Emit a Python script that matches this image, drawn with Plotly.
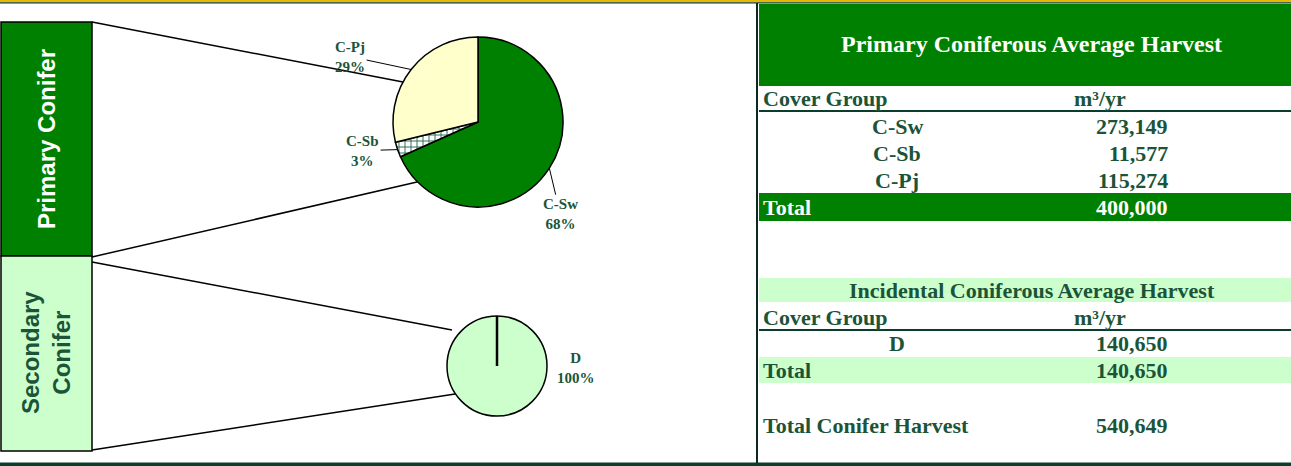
import numpy as np
import plotly.graph_objects as go

W, H = 1291, 466

# data
primary_groups = ["C-Sw", "C-Sb", "C-Pj"]
primary_volumes = [273149, 11577, 115274]
primary_total = 400000
incidental_groups = ["D"]
incidental_volumes = [140650]
incidental_total = 140650
conifer_total = 540649

GREEN = "#008000"
LIGHT = "#CCFFCC"
CREAM = "#FFFFCC"
DARK = "#1B5438"
RULE = "#0B3D2C"
SERIF = "Liberation Serif, Times New Roman, serif"
SANS = "Liberation Sans, Arial, sans-serif"

# pie placement (pixels)
P_CX, P_CY, P_R = 478, 122, 85
S_CX, S_CY, S_R = 497, 366, 50
# where each primary label sits relative to its slice edge (pixels)
label_offsets = {"C-Sw": (11, 46), "C-Sb": (-35, 1), "C-Pj": (-61, -13)}


def domain(cx, cy, r):
    return dict(x=[(cx - r) / W, (cx + r) / W],
                y=[1 - (cy + r) / H, 1 - (cy - r) / H])


def slice_edges(values, cx, cy, r):
    frac = np.array(values, dtype=float) / np.sum(values)
    mids = (np.cumsum(frac) - frac / 2) * 2 * np.pi
    return cx + r * np.sin(mids), cy - r * np.cos(mids), frac


fig = go.Figure()

fig.add_trace(go.Pie(
    labels=primary_groups, values=primary_volumes,
    sort=False, direction="clockwise", rotation=0,
    marker=dict(colors=[GREEN, "white", CREAM],
                line=dict(color="black", width=1.5),
                pattern=dict(shape=["", "+", ""], fgcolor="#2F6E50",
                             size=6, solidity=0.3)),
    textinfo="none", domain=domain(P_CX, P_CY, P_R), showlegend=False,
))
fig.add_trace(go.Pie(
    labels=incidental_groups, values=incidental_volumes,
    sort=False, direction="clockwise", rotation=0,
    marker=dict(colors=[LIGHT], line=dict(color="black", width=1.5)),
    textinfo="none", domain=domain(S_CX, S_CY, S_R), showlegend=False,
))

# invisible pixel axes for the decoration
fig.add_trace(go.Scatter(x=[0, W], y=[0, H], mode="markers",
                         marker=dict(opacity=0), hoverinfo="skip", showlegend=False))

shapes = []


def rect(x0, y0, x1, y1, fill, line=None, width=0):
    shapes.append(dict(type="rect", xref="x", yref="y", x0=x0, y0=y0, x1=x1, y1=y1,
                       fillcolor=fill, line=dict(color=line or fill, width=width), layer="below"))


def seg(x0, y0, x1, y1, color="black", width=1.5):
    shapes.append(dict(type="line", xref="x", yref="y", x0=x0, y0=y0, x1=x1, y1=y1,
                       line=dict(color=color, width=width)))


# page frame
rect(0, 0, W, 2.2, "#E8B800")
rect(0, 2.2, W, 3.6, RULE)
rect(0, 462.5, W, H, RULE)
seg(757, 3, 757, 463, color="#0A2A1F", width=2)

# left group boxes and connectors
rect(1, 22, 92, 256, GREEN, "black", 1.5)
rect(1, 256, 92, 451, LIGHT, "black", 1.5)
seg(92, 22, 403, 82)
seg(92, 257, 417, 182)
seg(92, 262, 452, 330)
seg(92, 450, 455, 394)
seg(S_CX, S_CY, S_CX, S_CY - S_R, width=2.5)

# table bands
rect(759, 4, W, 86, GREEN)
rect(759, 193, W, 221, GREEN)
rect(759, 278, W, 302, LIGHT)
rect(759, 357, W, 383, LIGHT)
seg(759, 111, W, 111, color=RULE, width=2)
seg(759, 330, W, 330, color=RULE, width=2)

ann = []


def text(x, y, s, size=22, color=DARK, anchor="center", font=SERIF, angle=0):
    ann.append(dict(x=x, y=y, xref="x", yref="y", text=s, showarrow=False,
                    xanchor=anchor, yanchor="middle", textangle=angle,
                    font=dict(family=font, size=size, color=color)))


text(46, 139, "<b>Primary Conifer</b>", size=24, color="white", font=SANS, angle=-90)
text(46, 353, "<b>Secondary<br>Conifer</b>", size=24, color=DARK, font=SANS, angle=-90)

# pie labels with leader lines
xs, ys, fr = slice_edges(primary_volumes, P_CX, P_CY, P_R)
for g, x, y, f in zip(primary_groups, xs, ys, fr):
    ax, ay = label_offsets[g]
    ann.append(dict(x=x, y=y, xref="x", yref="y", ax=ax, ay=ay,
                    text=f"<b>{g}<br>{f * 100:.0f}%</b>", showarrow=True,
                    arrowhead=0, arrowwidth=1, arrowcolor="black", standoff=0,
                    font=dict(family=SERIF, size=15, color=DARK)))
_, _, fr2 = slice_edges(incidental_volumes, S_CX, S_CY, S_R)
for g, f in zip(incidental_groups, fr2):
    text(S_CX + S_R + 29, S_CY + 2, f"<b>{g}<br>{f * 100:.0f}%</b>", size=15)

# primary table
VAL_X, GRP_X = 1170, 897
text(1031, 44, "<b>Primary Coniferous Average Harvest</b>", size=24, color="white")
text(761, 98, "<b>Cover Group</b>", anchor="left")
text(1100, 98, "<b>m³/yr</b>")
for i, (g, v) in enumerate(zip(primary_groups, primary_volumes)):
    text(GRP_X, 126 + 27 * i, f"<b>{g}</b>")
    text(VAL_X, 126 + 27 * i, f"<b>{v:,}</b>", anchor="right")
text(761, 207, "<b>Total</b>", color="white", anchor="left")
text(VAL_X, 207, f"<b>{primary_total:,}</b>", color="white", anchor="right")

# incidental table
text(1032, 290, "<b>Incidental Coniferous Average Harvest</b>")
text(761, 317, "<b>Cover Group</b>", anchor="left")
text(1100, 317, "<b>m³/yr</b>")
for i, (g, v) in enumerate(zip(incidental_groups, incidental_volumes)):
    text(GRP_X, 343 + 27 * i, f"<b>{g}</b>")
    text(VAL_X, 343 + 27 * i, f"<b>{v:,}</b>", anchor="right")
text(761, 370, "<b>Total</b>", anchor="left")
text(VAL_X, 370, f"<b>{incidental_total:,}</b>", anchor="right")
text(761, 425, "<b>Total Conifer Harvest</b>", anchor="left")
text(VAL_X, 425, f"<b>{conifer_total:,}</b>", anchor="right")

fig.update_layout(
    width=W, height=H,
    margin=dict(l=0, r=0, t=0, b=0),
    paper_bgcolor="white", plot_bgcolor="white",
    xaxis=dict(range=[0, W], visible=False, domain=[0, 1], fixedrange=True),
    yaxis=dict(range=[H, 0], visible=False, domain=[0, 1], fixedrange=True),
    shapes=shapes, annotations=ann,
)

# drop the browser's default page margin so the figure sits at the window origin
fig.write_html("out.html", config={"displayModeBar": False},
               post_script="document.body.style.margin='0';")
